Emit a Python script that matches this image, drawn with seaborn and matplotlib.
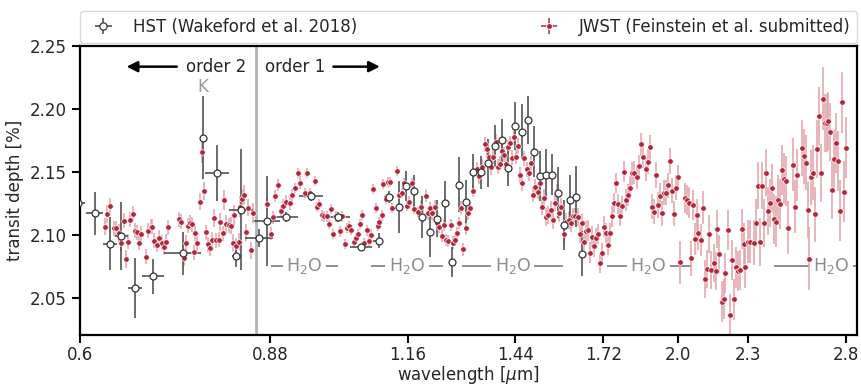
import numpy as np
import matplotlib
matplotlib.use("Agg")
import matplotlib.pyplot as plt
from matplotlib.lines import Line2D
from matplotlib.collections import LineCollection
from matplotlib.container import ErrorbarContainer
from matplotlib.ticker import NullLocator
import seaborn as sns

# ---------------- data ----------------
hst_wave = [0.598, 0.618, 0.637, 0.652, 0.670, 0.695, 0.738, 0.768, 0.790, 0.822,
            0.830, 0.860, 0.875, 0.908, 0.956, 1.008, 1.057, 1.094, 1.117, 1.139,
            1.156, 1.176, 1.195, 1.213, 1.231, 1.250, 1.268, 1.287, 1.304, 1.322,
            1.345, 1.364, 1.383, 1.402, 1.421, 1.441, 1.461, 1.478, 1.497, 1.514,
            1.534, 1.552, 1.571, 1.590, 1.607, 1.627, 1.646]
hst_depth = [2.125, 2.117, 2.093, 2.099, 2.058, 2.067, 2.0855, 2.177, 2.149, 2.0836,
             2.120, 2.0974, 2.111, 2.114, 2.131, 2.1145, 2.090, 2.0952, 2.130, 2.1222,
             2.139, 2.135, 2.1145, 2.1026, 2.113, 2.125, 2.0786, 2.140, 2.1264, 2.150,
             2.1498, 2.1574, 2.1706, 2.175, 2.1534, 2.1868, 2.182, 2.1913, 2.1661, 2.1468,
             2.1476, 2.1479, 2.1336, 2.108, 2.1278, 2.1304, 2.0852]
hst_yerr = [0.015, 0.017, 0.021, 0.027, 0.024, 0.014, 0.017, 0.033, 0.022, 0.009,
            0.048, 0.007, 0.036, 0.004, 0.004, 0.004, 0.003, 0.006, 0.005, 0.0205,
            0.012, 0.0127, 0.0167, 0.020, 0.0146, 0.018, 0.012, 0.022, 0.017, 0.014,
            0.013, 0.019, 0.017, 0.017, 0.0146, 0.019, 0.022, 0.019, 0.020, 0.020,
            0.021, 0.016, 0.020, 0.020, 0.020, 0.024, 0.0175]
hst_xerr = [0.008, 0.011, 0.009, 0.0088, 0.0094, 0.0154, 0.028, 0.0, 0.019, 0.008,
            0.020, 0.024, 0.023, 0.022, 0.023, 0.024, 0.023, 0.011, 0.011, 0.0,
            0, 0, 0, 0, 0, 0, 0, 0, 0, 0,
            0, 0, 0, 0, 0, 0, 0, 0, 0, 0,
            0, 0, 0, 0, 0, 0, 0]

# JWST order 2
jw_o2_wave = [0.631, 0.634, 0.637, 0.642, 0.645, 0.649, 0.652, 0.655, 0.658, 0.661,
              0.663, 0.667, 0.670, 0.673, 0.676, 0.679, 0.685, 0.688, 0.692, 0.694,
              0.697, 0.701, 0.704, 0.707, 0.710, 0.713, 0.716, 0.732, 0.735, 0.739,
              0.742, 0.745, 0.748, 0.751, 0.754, 0.757, 0.760, 0.764, 0.767, 0.770,
              0.773, 0.776, 0.779, 0.783, 0.786, 0.789, 0.793, 0.796, 0.800, 0.802,
              0.805, 0.809, 0.813, 0.816, 0.818, 0.822, 0.826, 0.828, 0.831, 0.835,
              0.838, 0.842, 0.846, 0.850]
jw_o2_depth = [2.1066, 2.1167, 2.1233, 2.1053, 2.1053, 2.1013, 2.0934, 2.1114, 2.0810, 2.0945,
               2.1119, 2.1167, 2.1032, 2.1019, 2.0939, 2.1008, 2.0828, 2.1034, 2.1066, 2.1066,
               2.0955, 2.0923, 2.0979, 2.0939, 2.0902, 2.0947, 2.1061, 2.1124, 2.1103, 2.0815,
               2.0939, 2.1072, 2.1098, 2.1085, 2.0863, 2.1013, 2.0934, 2.1265, 2.1662, 2.1349,
               2.1019, 2.0926, 2.0892, 2.0960, 2.1135, 2.0958, 2.0960, 2.1101, 2.1013, 2.1278,
               2.1087, 2.1077, 2.1074, 2.0939, 2.1154, 2.0908, 2.0947, 2.1225, 2.1283, 2.1318,
               2.1019, 2.1217, 2.0876, 2.1172]
jw_o2_err = [0.007, 0.007, 0.006, 0.006, 0.006, 0.007, 0.006, 0.006, 0.007, 0.006,
             0.006, 0.006, 0.006, 0.006, 0.006, 0.006, 0.006, 0.006, 0.006, 0.006,
             0.006, 0.006, 0.006, 0.006, 0.006, 0.006, 0.006, 0.006, 0.006, 0.006,
             0.006, 0.006, 0.006, 0.006, 0.006, 0.006, 0.006, 0.007, 0.009, 0.007,
             0.006, 0.006, 0.006, 0.006, 0.007, 0.006, 0.006, 0.007, 0.006, 0.008,
             0.007, 0.006, 0.007, 0.007, 0.008, 0.007, 0.007, 0.008, 0.008, 0.008,
             0.007, 0.007, 0.007, 0.008]

# JWST order 1, blue part
jw_blue_wave = [0.875, 0.881, 0.884, 0.889, 0.894, 0.899, 0.903, 0.909, 0.915, 0.919,
                0.925, 0.930, 0.934, 0.944, 0.948, 0.953, 0.962, 0.966, 0.971, 0.976,
                0.981, 0.986, 0.990, 0.994, 0.999, 1.004, 1.012, 1.016, 1.022, 1.026,
                1.031, 1.036, 1.041, 1.045, 1.050, 1.055, 1.059, 1.063, 1.069, 1.073,
                1.078, 1.083, 1.088, 1.092, 1.096, 1.101, 1.105, 1.110, 1.116, 1.120,
                1.125, 1.136, 1.141, 1.146, 1.152, 1.158, 1.164, 1.170, 1.174, 1.185,
                1.191, 1.196, 1.203, 1.208, 1.213, 1.219, 1.226, 1.231, 1.236, 1.242,
                1.247, 1.252, 1.259, 1.265, 1.272, 1.276, 1.282, 1.286, 1.292, 1.298,
                1.304, 1.309, 1.315, 1.322]
jw_blue_depth = [2.1246, 2.101, 2.114, 2.131, 2.1397, 2.119, 2.1233, 2.1265, 2.1251, 2.1318,
                 2.1371, 2.1495, 2.1415, 2.1331, 2.149, 2.1331, 2.1431, 2.122, 2.1246, 2.1154,
                 2.1146, 2.1146, 2.1087, 2.1204, 2.1008, 2.1146, 2.1027, 2.1146, 2.0926, 2.1053,
                 2.1074, 2.104, 2.0947, 2.0974, 2.1008, 2.1087, 2.1159, 2.0934, 2.1035, 2.0953,
                 2.1003, 2.1363, 2.1217, 2.1072, 2.1101, 2.1154, 2.1402, 2.1283, 2.1418, 2.1423,
                 2.1217, 2.1505, 2.1318, 2.1336, 2.1415, 2.1233, 2.1265, 2.1415, 2.1206, 2.1185,
                 2.1225, 2.1146, 2.1312, 2.1172, 2.1212, 2.1172, 2.1225, 2.1093, 2.1066, 2.0992,
                 2.108, 2.0960, 2.0953, 2.108, 2.0939, 2.096, 2.1013, 2.1093, 2.1217, 2.0886,
                 2.1053, 2.1172, 2.1212, 2.135]
jw_blue_err = [0.005, 0.005, 0.005, 0.005, 0.005, 0.005, 0.005, 0.005, 0.005, 0.005,
               0.004, 0.004, 0.005, 0.004, 0.004, 0.004, 0.004, 0.004, 0.004, 0.004,
               0.004, 0.004, 0.004, 0.004, 0.004, 0.004, 0.004, 0.004, 0.004, 0.004,
               0.004, 0.004, 0.004, 0.004, 0.004, 0.004, 0.004, 0.004, 0.004, 0.004,
               0.004, 0.004, 0.004, 0.004, 0.004, 0.004, 0.004, 0.004, 0.004, 0.004,
               0.004, 0.004, 0.004, 0.004, 0.004, 0.004, 0.004, 0.004, 0.004, 0.004,
               0.005, 0.005, 0.005, 0.005, 0.005, 0.005, 0.005, 0.005, 0.005, 0.005,
               0.005, 0.005, 0.005, 0.005, 0.005, 0.005, 0.005, 0.005, 0.005, 0.005,
               0.005, 0.005, 0.005, 0.005]

# JWST order 1, middle part
jw_mid_wave = [1.333, 1.340, 1.346, 1.355, 1.362, 1.367, 1.373, 1.378, 1.385, 1.390,
               1.397, 1.402, 1.408, 1.414, 1.420, 1.425, 1.432, 1.438, 1.443, 1.448,
               1.454, 1.460, 1.467, 1.474, 1.481, 1.488, 1.494, 1.500, 1.507, 1.514,
               1.520, 1.526, 1.534, 1.540, 1.547, 1.555, 1.561, 1.567, 1.574, 1.579,
               1.589, 1.597, 1.604, 1.612, 1.619, 1.626, 1.633, 1.640, 1.647, 1.654,
               1.661, 1.667, 1.674, 1.681, 1.688, 1.695, 1.701, 1.708, 1.715, 1.722,
               1.729, 1.736, 1.743, 1.750, 1.757, 1.764, 1.771, 1.778, 1.786, 1.793,
               1.800, 1.808, 1.816, 1.823, 1.830, 1.839, 1.848, 1.856, 1.864, 1.873,
               1.880, 1.889, 1.897, 1.904, 1.912, 1.920, 1.927, 1.935, 1.944]
jw_mid_depth = [2.1521, 2.1468, 2.1542, 2.172, 2.168, 2.1617, 2.1537, 2.1622, 2.1741, 2.1542,
                2.1564, 2.167, 2.1635, 2.1564, 2.1696, 2.1728, 2.1614, 2.1775, 2.1622, 2.1706,
                2.1476, 2.141, 2.1609, 2.1521, 2.149, 2.1569, 2.1318, 2.1384, 2.1344, 2.1415,
                2.1225, 2.1296, 2.1140, 2.1159, 2.1199, 2.1119, 2.1257, 2.1336, 2.1172, 2.1225,
                2.1008, 2.1106, 2.1119, 2.1093, 2.1146, 2.1146, 2.114, 2.1005, 2.1093, 2.0947,
                2.1027, 2.1035, 2.086, 2.0987, 2.0908, 2.0974, 2.1008, 2.0775, 2.0855, 2.1066,
                2.1013, 2.0921, 2.1013, 2.1146, 2.1251, 2.1415, 2.1246, 2.1151, 2.123, 2.1503,
                2.1278, 2.1318, 2.1376, 2.149, 2.1495, 2.1458, 2.1548, 2.172, 2.1622, 2.1521,
                2.1582, 2.1696, 2.1225, 2.1185, 2.1476, 2.1238, 2.131, 2.1172, 2.1336]
jw_mid_err = [0.006, 0.006, 0.006, 0.006, 0.006, 0.006, 0.006, 0.006, 0.006, 0.006,
              0.006, 0.006, 0.006, 0.006, 0.006, 0.006, 0.006, 0.006, 0.006, 0.006,
              0.006, 0.006, 0.006, 0.006, 0.006, 0.006, 0.006, 0.006, 0.006, 0.006,
              0.007, 0.007, 0.007, 0.007, 0.007, 0.007, 0.007, 0.007, 0.007, 0.007,
              0.007, 0.007, 0.007, 0.007, 0.007, 0.007, 0.007, 0.007, 0.007, 0.007,
              0.008, 0.008, 0.008, 0.008, 0.008, 0.008, 0.008, 0.008, 0.008, 0.008,
              0.008, 0.008, 0.008, 0.008, 0.008, 0.008, 0.008, 0.008, 0.008, 0.008,
              0.009, 0.009, 0.009, 0.009, 0.009, 0.009, 0.009, 0.009, 0.009, 0.009,
              0.010, 0.010, 0.010, 0.010, 0.010, 0.010, 0.010, 0.010, 0.010]

# JWST order 1, red part
jw_red_wave = [1.951, 1.958, 1.965, 1.973, 1.981, 1.991, 1.997, 2.008, 2.027, 2.035,
               2.043, 2.052, 2.060, 2.068, 2.075, 2.082, 2.092, 2.100, 2.110, 2.119,
               2.129, 2.136, 2.147, 2.156, 2.163, 2.172, 2.182, 2.191, 2.198, 2.209,
               2.218, 2.226, 2.235, 2.245, 2.253, 2.263, 2.272, 2.281, 2.289, 2.299,
               2.309, 2.327, 2.338, 2.346, 2.357, 2.365, 2.375, 2.384, 2.394, 2.404,
               2.413, 2.423, 2.433, 2.442, 2.454, 2.464, 2.474, 2.484, 2.494, 2.517,
               2.527, 2.539, 2.563, 2.574, 2.584, 2.594, 2.603, 2.613, 2.624, 2.633,
               2.644, 2.654, 2.663, 2.674, 2.685, 2.695, 2.705, 2.715, 2.726, 2.736,
               2.747, 2.758, 2.771, 2.782, 2.791, 2.802]
jw_red_depth = [2.1336, 2.1394, 2.1587, 2.1352, 2.1167, 2.1376, 2.1458, 2.0783, 2.1291, 2.1278,
                2.1257, 2.0815, 2.1236, 2.0968, 2.1156, 2.1013, 2.096, 2.1217, 2.0648, 2.073,
                2.101, 2.0722, 2.0775, 2.0712, 2.1048, 2.0847, 2.047, 2.0492, 2.0696, 2.104,
                2.0360, 2.0799, 2.0487, 2.0741, 2.0714, 2.0722, 2.1048, 2.0926, 2.0746, 2.0947,
                2.0947, 2.0939, 2.1095, 2.1392, 2.0942, 2.1392, 2.1095, 2.1495, 2.119, 2.1254,
                2.1373, 2.1127, 2.1106, 2.1278, 2.1246, 2.1516, 2.1447, 2.1429, 2.1058, 2.1556,
                2.1225, 2.1476, 2.1691, 2.1624, 2.1574, 2.1199, 2.081, 2.1458, 2.1495, 2.1164,
                2.1683, 2.1942, 2.1495, 2.2082, 2.1892, 2.1892, 2.1905, 2.1815, 2.1357, 2.1606,
                2.1728, 2.1585, 2.1193, 2.2053, 2.1344, 2.1693]
jw_red_err = [0.010, 0.010, 0.010, 0.010, 0.010, 0.010, 0.010, 0.017, 0.012, 0.012,
              0.012, 0.014, 0.012, 0.013, 0.013, 0.013, 0.013, 0.013, 0.015, 0.015,
              0.015, 0.015, 0.015, 0.015, 0.015, 0.015, 0.016, 0.016, 0.016, 0.016,
              0.017, 0.016, 0.016, 0.016, 0.016, 0.016, 0.016, 0.017, 0.017, 0.017,
              0.017, 0.018, 0.019, 0.019, 0.019, 0.019, 0.019, 0.019, 0.019, 0.019,
              0.019, 0.020, 0.020, 0.020, 0.020, 0.020, 0.020, 0.020, 0.021, 0.021,
              0.021, 0.021, 0.022, 0.022, 0.022, 0.022, 0.025, 0.022, 0.022, 0.022,
              0.023, 0.023, 0.023, 0.025, 0.023, 0.023, 0.023, 0.023, 0.023, 0.023,
              0.024, 0.024, 0.024, 0.024, 0.024, 0.024]

xtick_vals = [0.6, 0.88, 1.16, 1.44, 1.72, 2.0, 2.3, 2.8]
xtick_labels = ["0.6", "0.88", "1.16", "1.44", "1.72", "2.0", "2.3", "2.8"]
ytick_vals = [2.05, 2.10, 2.15, 2.20, 2.25]

h2o_bands = [(0.881, 1.009), (1.077, 1.246), (1.294, 1.587), (1.731, 2.050), (2.426, 3.047)]
h2o_level = 2.075

# ---------------- plotting ----------------
sns.set_theme(style="ticks")
plt.rcParams["font.family"] = ["DejaVu Sans"]
plt.rcParams["mathtext.fontset"] = "dejavusans"

fig, ax = plt.subplots(figsize=(8.61, 3.85), dpi=100)
fig.subplots_adjust(left=0.0929, right=0.9959, bottom=0.1299, top=0.8805)

jw_wave = jw_o2_wave + jw_blue_wave + jw_mid_wave + jw_red_wave
jw_depth = jw_o2_depth + jw_blue_depth + jw_mid_depth + jw_red_depth
jw_err = jw_o2_err + jw_blue_err + jw_mid_err + jw_red_err

jw_color = "#b3263a"
jw_ecolor = "#e2a2aa"
hst_color = "#444444"

ax.set_xscale("log")

# order separator
ax.axvline(0.855, color="#b3b3b3", lw=2, zorder=1)

# water bands
for lo, hi in h2o_bands:
    ax.hlines(h2o_level, lo, hi, color="#8c8c8c", lw=1.4, zorder=1)
    ax.text(np.sqrt(lo * hi), h2o_level, "H$_2$O", ha="center", va="center",
            color="#8c8c8c", fontsize=12.5, zorder=1.5,
            bbox=dict(facecolor="white", edgecolor="none", pad=2.5))

ax.errorbar(jw_wave, jw_depth, yerr=jw_err, fmt="none",
            ecolor=jw_ecolor, elinewidth=1.1, capsize=0, zorder=2)
ax.errorbar(hst_wave, hst_depth, yerr=hst_yerr, xerr=hst_xerr, fmt="none",
            ecolor=hst_color, elinewidth=1.1, capsize=0, zorder=2.5)

sns.scatterplot(x=jw_wave, y=jw_depth, ax=ax, color=jw_color, s=16,
                edgecolor="white", linewidth=0.5, zorder=3, legend=False)
sns.scatterplot(x=hst_wave, y=hst_depth, ax=ax, color="white", s=25,
                edgecolor="#333333", linewidth=0.9, zorder=4, legend=False)

# annotations
ax.annotate("", xy=(0.659, 2.2336), xytext=(0.729, 2.2336),
            arrowprops=dict(arrowstyle="-|>", color="black", lw=1.8,
                            mutation_scale=16, shrinkA=0, shrinkB=0))
ax.text(0.839, 2.2336, "order 2", ha="right", va="center", fontsize=12)
ax.annotate("", xy=(1.097, 2.2336), xytext=(0.999, 2.2336),
            arrowprops=dict(arrowstyle="-|>", color="black", lw=1.8,
                            mutation_scale=16, shrinkA=0, shrinkB=0))
ax.text(0.8705, 2.2336, "order 1", ha="left", va="center", fontsize=12)
ax.text(0.768, 2.2172, "K", ha="center", va="center", fontsize=12, color="#999999")

# axes
ax.set_xlim(0.6, 2.868)
ax.set_ylim(2.0205, 2.25)
ax.set_xticks(xtick_vals)
ax.set_xticklabels(xtick_labels)
ax.xaxis.set_minor_locator(NullLocator())
ax.set_yticks(ytick_vals)
ax.set_yticklabels([f"{v:.2f}" for v in ytick_vals])
ax.tick_params(axis="both", which="major", labelsize=12, length=6, width=1.5,
               color="black", direction="out")
ax.tick_params(axis="x", pad=2)
for sp in ax.spines.values():
    sp.set_linewidth(1.6)
    sp.set_color("black")
    sp.set_visible(True)
ax.set_xlabel("wavelength [$\\mu$m]", fontsize=12, labelpad=0)
ax.set_ylabel("transit depth [%]", fontsize=12)

# legend (proxy errorbar handles)
hst_proxy = Line2D([], [], ls="none", marker="o", markersize=5.2,
                   markerfacecolor="white", markeredgecolor="#333333", markeredgewidth=0.9)
jw_proxy = Line2D([], [], ls="none", marker="o", markersize=4.2,
                  markerfacecolor=jw_color, markeredgecolor="white", markeredgewidth=0.6)
hst_leg = ErrorbarContainer((hst_proxy, (), (LineCollection([], colors=hst_color, linewidths=1.1),)),
                            has_xerr=True, has_yerr=True)
jw_leg = ErrorbarContainer((jw_proxy, (), (LineCollection([], colors=jw_color, linewidths=1.1),)),
                           has_xerr=True, has_yerr=True)
leg = ax.legend([hst_leg, jw_leg],
                ["HST (Wakeford et al. 2018)", "JWST (Feinstein et al. submitted)"],
                loc="lower left", bbox_to_anchor=(0.0, 1.012, 1.0, 0.1),
                mode="expand", ncol=2, borderaxespad=0, fontsize=12,
                frameon=True)
leg.get_frame().set_edgecolor("#d0d0d0")

fig.savefig("out.png", dpi=100)
